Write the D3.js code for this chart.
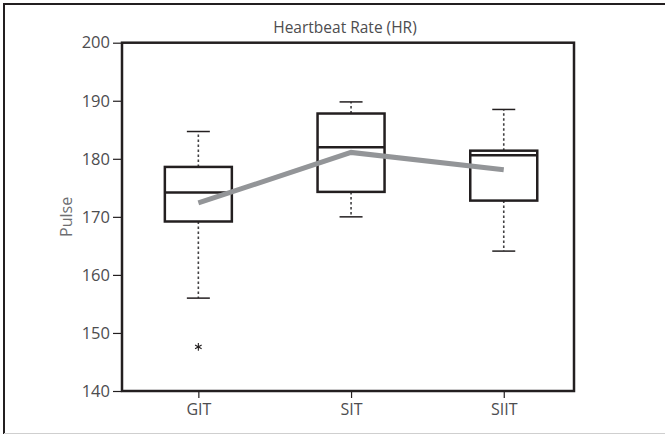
<!DOCTYPE html>
<html>
<head>
<meta charset="utf-8">
<script src="https://cdn.jsdelivr.net/npm/d3@7"></script>
<style>
body { margin: 0; background: #fff; }
text { font-family: "Open Sans", sans-serif; }
</style>
</head>
<body>
<div id="chart"></div>
<script>
var groups = ["GIT", "SIT", "SIIT"];
var whiskerLow = [156.0, 170.0, 164.1];
var q1 = [169.2, 174.3, 172.8];
var medians = [174.2, 182.0, 180.6];
var q3 = [178.6, 187.8, 181.4];
var whiskerHigh = [184.7, 189.8, 188.5];
var means = [172.4, 181.1, 178.1];
var outliers = [{ g: 0, v: 147.6 }];
var yTicks = [140, 150, 160, 170, 180, 190, 200];

var fullWidth = 665, fullHeight = 435;
var plotLeft = 122, plotRight = 574, plotTop = 42.7, plotBottom = 391;

var svg = d3.select("#chart").append("svg")
	.attr("width", fullWidth)
	.attr("height", fullHeight);

// outer frame
svg.append("line").attr("x1", 4).attr("x2", 4).attr("y1", 3).attr("y2", 434)
	.attr("stroke", "#231f20").attr("stroke-width", 2);
svg.append("line").attr("x1", 3).attr("x2", 665).attr("y1", 4).attr("y2", 4)
	.attr("stroke", "#231f20").attr("stroke-width", 2);
svg.append("line").attr("x1", 4).attr("x2", 665).attr("y1", 433.5).attr("y2", 433.5)
	.attr("stroke", "#cfcfcf").attr("stroke-width", 1);

var x = d3.scaleLinear().domain([0.5, 3.46]).range([plotLeft, plotRight]);
var y = d3.scaleLinear().domain([140, 200]).range([plotBottom, plotTop]);

// title
svg.append("text")
	.attr("x", 345).attr("y", 33)
	.attr("text-anchor", "middle")
	.attr("font-size", 15.5)
	.attr("fill", "#4d4d4f")
	.text("Heartbeat Rate (HR)");

// y axis
var yAxis = svg.append("g")
	.attr("transform", "translate(" + plotLeft + ",0)")
	.call(d3.axisLeft(y).tickValues(yTicks).tickSize(9).tickPadding(3));
yAxis.select(".domain").remove();
yAxis.selectAll("line").attr("stroke", "#231f20").attr("stroke-width", 1.2);
yAxis.selectAll("text").attr("font-size", 16.5).attr("fill", "#4d4d4f")
	.attr("font-family", "Open Sans, sans-serif");

// x axis
var xAxis = svg.append("g")
	.attr("transform", "translate(0," + plotBottom + ")")
	.call(d3.axisBottom(x).tickValues([1, 2, 3])
		.tickFormat(function(d) { return groups[d - 1]; })
		.tickSize(7).tickPadding(6));
xAxis.select(".domain").remove();
xAxis.selectAll("line").attr("stroke", "#231f20").attr("stroke-width", 1.2);
xAxis.selectAll("text").attr("font-size", 16).attr("fill", "#4d4d4f")
	.attr("font-family", "Open Sans, sans-serif");

// y label
svg.append("text")
	.attr("transform", "translate(72," + ((plotTop + plotBottom) / 2) + ") rotate(-90)")
	.attr("text-anchor", "middle")
	.attr("font-size", 16)
	.attr("fill", "#6d6e71")
	.text("Pulse");

// plot frame
svg.append("rect")
	.attr("x", plotLeft).attr("y", plotTop)
	.attr("width", plotRight - plotLeft).attr("height", plotBottom - plotTop)
	.attr("fill", "none").attr("stroke", "#231f20").attr("stroke-width", 2.5);

var boxW = 67, capW = 23;
var data = groups.map(function(g, i) {
	return { i: i + 1, lo: whiskerLow[i], q1: q1[i], med: medians[i], q3: q3[i], hi: whiskerHigh[i] };
});

var box = svg.selectAll("g.box").data(data).enter().append("g").attr("class", "box");

// whiskers
box.append("line")
	.attr("x1", function(d) { return x(d.i); }).attr("x2", function(d) { return x(d.i); })
	.attr("y1", function(d) { return y(d.q3); }).attr("y2", function(d) { return y(d.hi); })
	.attr("stroke", "#414042").attr("stroke-width", 1.6).attr("stroke-dasharray", "2.5,2.5");
box.append("line")
	.attr("x1", function(d) { return x(d.i); }).attr("x2", function(d) { return x(d.i); })
	.attr("y1", function(d) { return y(d.q1); }).attr("y2", function(d) { return y(d.lo); })
	.attr("stroke", "#414042").attr("stroke-width", 1.6).attr("stroke-dasharray", "2.5,2.5");
// caps
["hi", "lo"].forEach(function(k) {
	box.append("line")
		.attr("x1", function(d) { return x(d.i) - capW / 2; })
		.attr("x2", function(d) { return x(d.i) + capW / 2; })
		.attr("y1", function(d) { return y(d[k]); }).attr("y2", function(d) { return y(d[k]); })
		.attr("stroke", "#231f20").attr("stroke-width", 1.5);
});
// boxes
box.append("rect")
	.attr("x", function(d) { return x(d.i) - boxW / 2; })
	.attr("y", function(d) { return y(d.q3); })
	.attr("width", boxW)
	.attr("height", function(d) { return y(d.q1) - y(d.q3); })
	.attr("fill", "#fff").attr("stroke", "#231f20").attr("stroke-width", 2.5);
// medians
box.append("line")
	.attr("x1", function(d) { return x(d.i) - boxW / 2; })
	.attr("x2", function(d) { return x(d.i) + boxW / 2; })
	.attr("y1", function(d) { return y(d.med); }).attr("y2", function(d) { return y(d.med); })
	.attr("stroke", "#231f20").attr("stroke-width", 2.5);

// outliers
svg.selectAll("path.outlier").data(outliers).enter().append("path")
	.attr("class", "outlier")
	.attr("transform", function(d) { return "translate(" + x(d.g + 1) + "," + y(d.v) + ")"; })
	.attr("d", d3.symbol().type(d3.symbolAsterisk).size(40))
	.attr("fill", "none").attr("stroke", "#231f20").attr("stroke-width", 1.1);

// mean line
var line = d3.line()
	.x(function(d, i) { return x(i + 1); })
	.y(function(d) { return y(d); });
svg.append("path")
	.datum(means)
	.attr("d", line)
	.attr("fill", "none")
	.attr("stroke", "#939598")
	.attr("stroke-width", 5);
</script>
</body>
</html>
